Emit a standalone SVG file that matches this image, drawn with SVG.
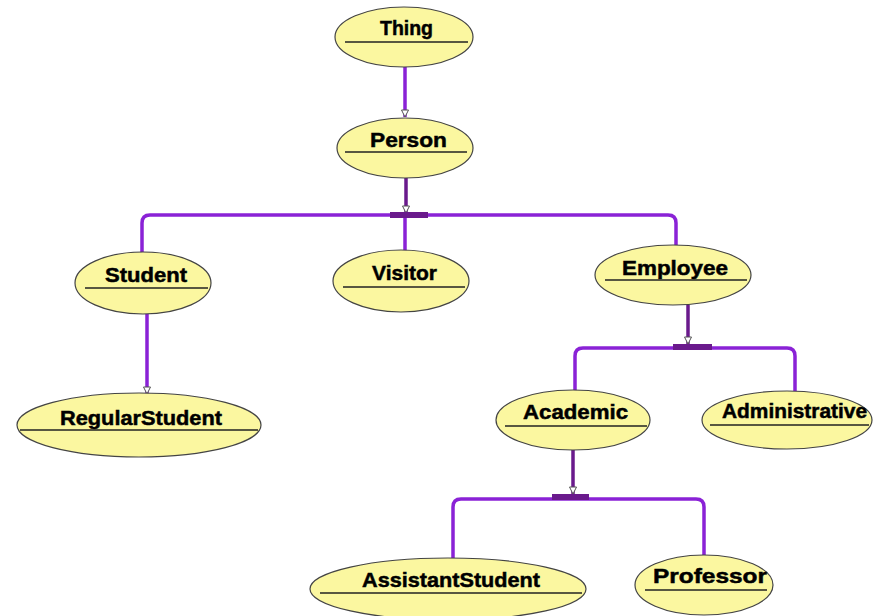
<svg xmlns="http://www.w3.org/2000/svg" width="876" height="616" viewBox="0 0 876 616">
<style>
.n ellipse{fill:#fbf7a0;stroke:#444;stroke-width:1.2}
.n text{font-family:"Liberation Sans",Arial,sans-serif;font-weight:bold;font-size:21px;fill:#000;stroke:#000;stroke-width:0.5;text-anchor:middle}
.n line{stroke:#222;stroke-width:1.3}
.c{fill:none;stroke:#8a22d6;stroke-width:3.5;stroke-linejoin:round}
.d{fill:none;stroke:#6a1a8c;stroke-width:3.5}
.bar{fill:#6a1a8c}
</style>
<defs>
<marker id="tri" markerWidth="10" markerHeight="10" refX="8" refY="5" orient="auto" markerUnits="userSpaceOnUse" viewBox="0 0 10 10">
<path d="M1,1.5 L8,5 L1,8.5 Z" fill="#fff" stroke="#555" stroke-width="1"/>
</marker>
</defs>
<rect width="876" height="616" fill="#fff"/>
<g id="connectors">
<line class="c" x1="405" y1="67" x2="405" y2="117" marker-end="url(#tri)"/>
<line class="d" x1="406" y1="178" x2="406" y2="213" marker-end="url(#tri)"/>
<path class="c" d="M142,254 V223 Q142,215 150,215 H668 Q676,215 676,223 V245"/>
<line class="c" x1="405" y1="215" x2="405" y2="251"/>
<rect class="bar" x="390" y="212" width="38" height="6"/>
<line class="c" x1="147" y1="314" x2="147" y2="394" marker-end="url(#tri)"/>
<line class="d" x1="688" y1="305" x2="688" y2="344" marker-end="url(#tri)"/>
<path class="c" d="M575,391 V356 Q575,348 583,348 H787 Q795,348 795,356 V391"/>
<rect class="bar" x="673" y="344" width="39" height="6"/>
<line class="d" x1="573" y1="450" x2="573" y2="494" marker-end="url(#tri)"/>
<path class="c" d="M453,558 V507 Q453,499 461,499 H696 Q704,499 704,507 V555"/>
<rect class="bar" x="552" y="494" width="37" height="6"/>
</g>
<g id="Thing" class="n"><ellipse cx="404" cy="37" rx="69" ry="30"/><text x="406.5" y="35" textLength="53" lengthAdjust="spacingAndGlyphs">Thing</text><line x1="345" y1="42" x2="468" y2="42"/></g>
<g id="Person" class="n"><ellipse cx="405" cy="148" rx="68" ry="30"/><text x="408.5" y="147" textLength="77" lengthAdjust="spacingAndGlyphs">Person</text><line x1="345" y1="152" x2="467" y2="152"/></g>
<g id="Student" class="n"><ellipse cx="143" cy="283" rx="68" ry="31"/><text x="146" y="282" textLength="82" lengthAdjust="spacingAndGlyphs">Student</text><line x1="85" y1="288" x2="208" y2="288"/></g>
<g id="Visitor" class="n"><ellipse cx="401" cy="281" rx="68" ry="31"/><text x="404.5" y="280" textLength="65" lengthAdjust="spacingAndGlyphs">Visitor</text><line x1="343" y1="287" x2="465" y2="287"/></g>
<g id="Employee" class="n"><ellipse cx="673" cy="275" rx="78" ry="30"/><text x="675" y="275" textLength="106" lengthAdjust="spacingAndGlyphs">Employee</text><line x1="605" y1="280" x2="747" y2="280"/></g>
<g id="RegularStudent" class="n"><ellipse cx="139" cy="425" rx="122" ry="32"/><text x="141" y="425" textLength="162" lengthAdjust="spacingAndGlyphs">RegularStudent</text><line x1="20" y1="430" x2="258" y2="430"/></g>
<g id="Academic" class="n"><ellipse cx="573" cy="420" rx="77" ry="30"/><text x="575.5" y="419" textLength="105" lengthAdjust="spacingAndGlyphs">Academic</text><line x1="505" y1="426" x2="647" y2="426"/></g>
<g id="Administrative" class="n"><ellipse cx="787" cy="420" rx="85" ry="29"/><text x="794.5" y="418" textLength="145" lengthAdjust="spacingAndGlyphs">Administrative</text><line x1="710" y1="425" x2="869" y2="425"/></g>
<g id="AssistantStudent" class="n"><ellipse cx="448" cy="589" rx="138" ry="31"/><text x="451" y="587" textLength="178" lengthAdjust="spacingAndGlyphs">AssistantStudent</text><line x1="320" y1="593" x2="582" y2="593"/></g>
<g id="Professor" class="n"><ellipse cx="704" cy="585" rx="69" ry="30"/><text x="710" y="583" textLength="114" lengthAdjust="spacingAndGlyphs">Professor</text><line x1="645" y1="590" x2="767" y2="590"/></g>
</svg>
